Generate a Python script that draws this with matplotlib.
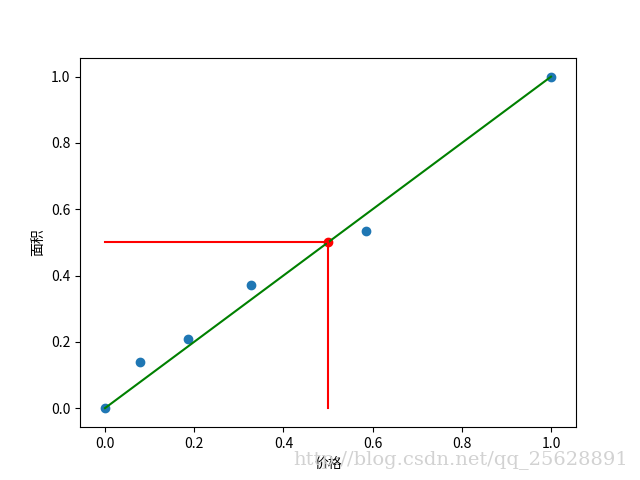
import matplotlib
matplotlib.use('Agg')
import matplotlib.pyplot as plt

plt.rcParams['font.family'] = ['Noto Sans CJK SC', 'DejaVu Sans']
plt.rcParams['axes.unicode_minus'] = False

# scatter points
xs = [0.0, 0.078, 0.186, 0.327, 0.585, 1.0]
ys = [0.0, 0.139, 0.208, 0.372, 0.535, 1.0]

# diagonal and the marked point
diag_x = [0, 1]
diag_y = [0, 1]
mark_x = 0.5
mark_y = 0.5

fig = plt.figure(figsize=(6.4, 4.8), dpi=100)
plt.scatter(xs, ys)
plt.plot(diag_x, diag_y, color='g')
plt.plot([0, mark_x], [mark_y, mark_y], color='r')
plt.plot([mark_x, mark_x], [0, mark_y], color='r')
plt.scatter([mark_x], [mark_y], color='r')
plt.xlim(-0.056, 1.056)
plt.ylim(-0.0575, 1.0575)
plt.xlabel('价格')
plt.ylabel('面积')

fig.text(0.982, 0.042, 'http://blog.csdn.net/qq_25628891', ha='right', va='center',
         fontsize=14, color='#d2d2d2', family=['DejaVu Serif'])

plt.savefig('out.png')
